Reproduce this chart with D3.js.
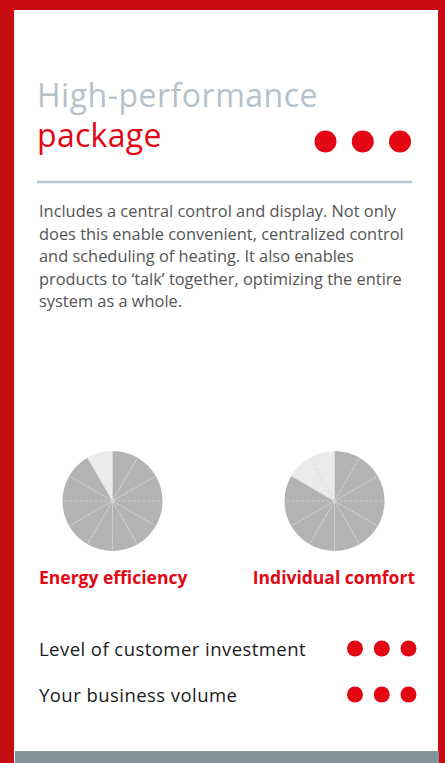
<!DOCTYPE html>
<html>
<head>
<meta charset="utf-8">
<script src="https://cdn.jsdelivr.net/npm/d3@7"></script>
<style>
  body { margin: 0; background: #fff; }
  svg { display: block; font-family: "Open Sans", "Noto Sans", sans-serif; }
</style>
</head>
<body>
<div class="chart"></div>
<script>
var svgWidth = 445;
var svgHeight = 763;

// Data
var titleLines = ["High-performance", "package"];
var packageRating = 3;
var descLines = [
  "Includes a central control and display. Not only",
  "does this enable convenient, centralized control",
  "and scheduling of heating. It also enables",
  "products to \u2018talk\u2019 together, optimizing the entire",
  "system as a whole."
];
var pieLabels = ["Energy efficiency", "Individual comfort"];
var pieFilled = [11, 10];   // filled slices out of 12
var pieSlices = 12;
var ratingLabels = ["Level of customer investment", "Your business volume"];
var ratingValues = [3, 3];

var red = "#e30613";

var svg = d3.select(".chart")
  .append("svg")
  .attr("width", svgWidth)
  .attr("height", svgHeight);

// Frame
svg.append("rect").attr("width", svgWidth).attr("height", svgHeight).attr("fill", "#c80c14");
svg.append("rect").attr("x", 14).attr("y", 10).attr("width", 424).attr("height", svgHeight - 10).attr("fill", "#fff");
svg.append("rect").attr("x", 15).attr("y", 751).attr("width", 424).attr("height", 12).attr("fill", "#85939b");

// Title
svg.append("text")
  .attr("x", 37).attr("y", 107)
  .attr("fill", "#b6c1c9")
  .style("font-size", "32px")
  .style("letter-spacing", "0.5px")
  .text(titleLines[0]);

svg.append("text")
  .attr("x", 37).attr("y", 147)
  .attr("fill", red)
  .style("font-size", "32px")
  .style("letter-spacing", "0.3px")
  .text(titleLines[1]);

var headDots = d3.scaleLinear().domain([0, 2]).range([325.5, 400]);
svg.append("g").selectAll("circle")
  .data(d3.range(packageRating))
  .enter()
  .append("circle")
  .attr("cx", d => headDots(d))
  .attr("cy", 141.5)
  .attr("r", 11)
  .attr("fill", red);

svg.append("line")
  .attr("x1", 37).attr("x2", 412)
  .attr("y1", 182).attr("y2", 182)
  .attr("stroke", "#b9c3cb")
  .attr("stroke-width", 2.5);

// Description
var descY = d3.scaleLinear().domain([0, 1]).range([217, 239.6]);
svg.append("g").selectAll("text")
  .data(descLines)
  .enter()
  .append("text")
  .attr("x", 39)
  .attr("y", (d, i) => descY(i))
  .attr("fill", "#555")
  .style("font-size", "16.4px")
  .text(d => d);

// Pies
var pieCx = d3.scalePoint().domain(pieLabels).range([112.5, 334.5]);
var arc = d3.arc().innerRadius(0).outerRadius(50);
var pie = d3.pie().value(1).sort(null);

pieLabels.forEach(function(label, k) {
  var g = svg.append("g").attr("transform", `translate(${pieCx(label)}, 501)`);
  var slices = pie(d3.range(pieSlices));
  g.selectAll("path")
    .data(slices)
    .enter()
    .append("path")
    .attr("d", arc)
    .attr("fill", d => d.index < pieFilled[k] ? "#b3b3b3" : "#ebebeb");
  g.selectAll("line")
    .data(slices)
    .enter()
    .append("line")
    .attr("x1", 0).attr("y1", 0)
    .attr("x2", d => 50 * Math.sin(d.startAngle))
    .attr("y2", d => -50 * Math.cos(d.startAngle))
    .attr("stroke", "#d4d4d4")
    .attr("stroke-width", 0.8)
    .attr("stroke-dasharray", "3,2");
});

svg.append("text")
  .attr("x", 39).attr("y", 584)
  .attr("fill", red)
  .style("font-size", "17.5px")
  .style("font-weight", "bold")
  .text(pieLabels[0]);

svg.append("text")
  .attr("x", 415).attr("y", 584)
  .attr("text-anchor", "end")
  .attr("fill", red)
  .style("font-size", "17.5px")
  .style("font-weight", "bold")
  .text(pieLabels[1]);

// Ratings
var rowY = d3.scaleLinear().domain([0, 1]).range([648.5, 694.5]);
var dotX = d3.scaleLinear().domain([0, 2]).range([355, 408.5]);

var rows = svg.append("g").selectAll("g")
  .data(ratingLabels)
  .enter()
  .append("g")
  .attr("transform", (d, i) => `translate(0, ${rowY(i)})`);

rows.append("text")
  .attr("x", 39).attr("y", 7)
  .attr("fill", "#1a1a1a")
  .style("font-size", "18.5px")
  .style("letter-spacing", "0.45px")
  .text(d => d);

rows.each(function(d, i) {
  d3.select(this).selectAll("circle")
    .data(d3.range(ratingValues[i]))
    .enter()
    .append("circle")
    .attr("cx", j => dotX(j))
    .attr("cy", 0)
    .attr("r", 8)
    .attr("fill", red);
});
</script>
</body>
</html>
